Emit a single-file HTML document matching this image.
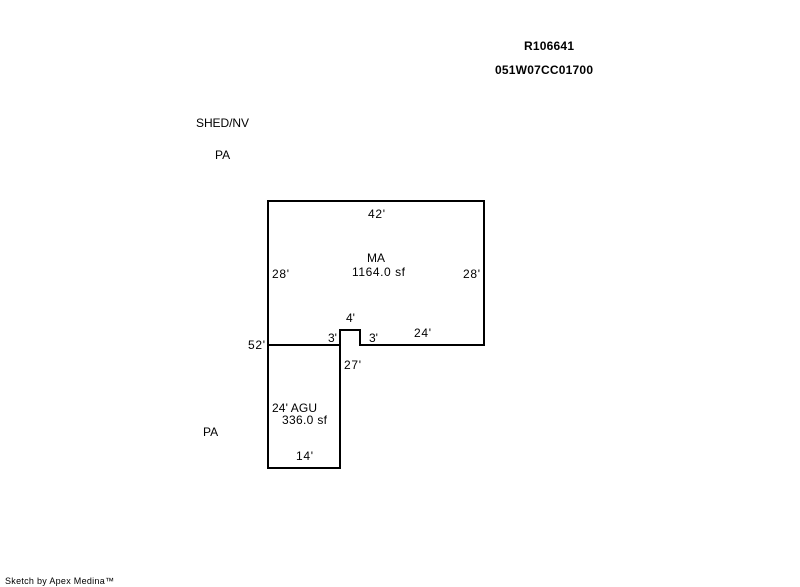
<!DOCTYPE html>
<html>
<head>
<meta charset="utf-8">
<style>
html,body{margin:0;padding:0;background:#fff;}
body{width:800px;height:587px;overflow:hidden;position:relative;}
svg{position:absolute;left:0;top:0;}
text{font-family:"Liberation Sans",sans-serif;font-size:12px;fill:#000;}
</style>
</head>
<body>
<svg width="800" height="587" viewBox="0 0 800 587" xmlns="http://www.w3.org/2000/svg">
<g fill="none" stroke="#000" stroke-width="2" shape-rendering="crispEdges">
<path d="M268 345V201H484V345H360V330H340V345H268"/>
<path d="M268 345V468H340V345"/>
</g>
<text x="524" y="50" textLength="50" style="font-weight:bold">R106641</text>
<text x="495" y="74" textLength="98" style="font-weight:bold">051W07CC01700</text>
<text x="196" y="127" textLength="53">SHED/NV</text>
<text x="215" y="159">PA</text>
<text x="368" y="218" textLength="17">42'</text>
<text x="367" y="262">MA</text>
<text x="352" y="276" textLength="53">1164.0 sf</text>
<text x="272" y="278" textLength="17">28'</text>
<text x="463" y="278" textLength="17">28'</text>
<text x="346" y="322">4'</text>
<text x="328" y="342">3'</text>
<text x="369" y="342">3'</text>
<text x="414" y="337" textLength="17">24'</text>
<text x="248" y="349" textLength="17">52'</text>
<text x="344" y="369" textLength="17">27'</text>
<text x="272" y="412" textLength="45">24' AGU</text>
<text x="282" y="424" textLength="45">336.0 sf</text>
<text x="203" y="436">PA</text>
<text x="296" y="460" textLength="17">14'</text>
<text x="5" y="584" textLength="109" style="font-size:9px">Sketch by Apex Medina™</text>
</svg>
</body>
</html>
